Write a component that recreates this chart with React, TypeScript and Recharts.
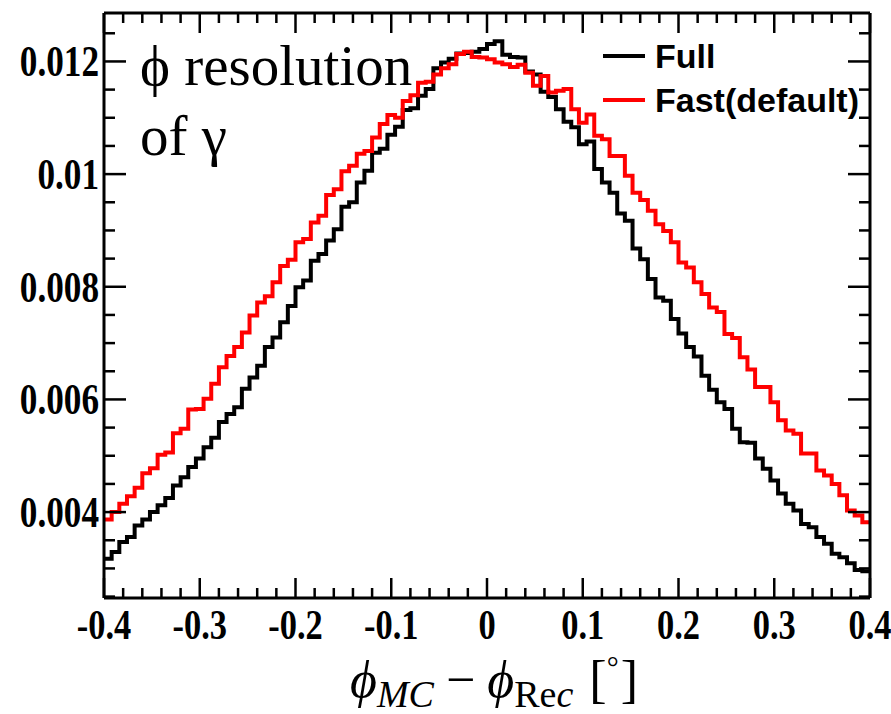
import React from "react";
import { LineChart, Line, XAxis, YAxis, Legend } from "recharts";

// histogram: 100 bins from -0.4 to 0.4
const binLowEdge = -0.4;
const binWidth = 0.008;

const fullValues = [
  0.00317, 0.00329, 0.00347, 0.00356, 0.00376, 0.00387, 0.004, 0.00412, 0.00425, 0.00447,
  0.00462, 0.0048, 0.00495, 0.00515, 0.00532, 0.0056, 0.00574, 0.00586, 0.00619, 0.00639,
  0.0066, 0.00693, 0.0071, 0.00737, 0.00766, 0.00799, 0.00811, 0.00846, 0.00858, 0.00882,
  0.00902, 0.00942, 0.0095, 0.00985, 0.01006, 0.01038, 0.01045, 0.0107, 0.01084, 0.01114,
  0.01117, 0.01139, 0.01151, 0.01188, 0.01198, 0.01205, 0.01214, 0.01215, 0.01217, 0.01222,
  0.01231, 0.01236, 0.01212, 0.01208, 0.01207, 0.01182, 0.01177, 0.01146, 0.01137, 0.01115,
  0.01093, 0.01083, 0.01053, 0.01058, 0.01009, 0.00985, 0.00967, 0.0093, 0.00917, 0.00868,
  0.00849, 0.00814, 0.00781, 0.00775, 0.00743, 0.00717, 0.00693, 0.00676, 0.00642, 0.00617,
  0.00595, 0.00583, 0.00548, 0.00524, 0.00523, 0.00495, 0.00477, 0.00456, 0.00433, 0.00415,
  0.00403, 0.00379, 0.00373, 0.00356, 0.00344, 0.00326, 0.0032, 0.00309, 0.00297, 0.00295,
];

const fastValues = [
  0.00387, 0.004, 0.00415, 0.00428, 0.00443, 0.00469, 0.00478, 0.00502, 0.00506, 0.0054,
  0.00548, 0.00582, 0.00583, 0.00601, 0.00628, 0.00657, 0.00677, 0.00693, 0.00719, 0.00749,
  0.00772, 0.00783, 0.00808, 0.00837, 0.00848, 0.00879, 0.00885, 0.00914, 0.00926, 0.00963,
  0.00973, 0.01005, 0.01015, 0.01036, 0.01041, 0.01065, 0.01089, 0.01105, 0.011, 0.0113,
  0.0114, 0.01162, 0.01164, 0.01177, 0.01188, 0.01195, 0.01213, 0.01217, 0.01208, 0.01207,
  0.01204, 0.01198, 0.01195, 0.0119, 0.01194, 0.0118, 0.01157, 0.01174, 0.01145, 0.01148,
  0.01151, 0.01115, 0.01091, 0.01106, 0.01068, 0.01062, 0.01032, 0.01032, 0.00997, 0.00967,
  0.00954, 0.00935, 0.00911, 0.00899, 0.00879, 0.00843, 0.00834, 0.00808, 0.00787, 0.00763,
  0.00755, 0.00716, 0.00709, 0.00675, 0.00653, 0.00622, 0.00622, 0.00595, 0.00563, 0.00545,
  0.00539, 0.00504, 0.00504, 0.00474, 0.00465, 0.0045, 0.0043, 0.00403, 0.00394, 0.00382,
];

const seriesOrder = ["full", "fast"];

const xMajorTicks = [-0.4, -0.3, -0.2, -0.1, 0, 0.1, 0.2, 0.3, 0.4];
const xTickLabels = ["-0.4", "-0.3", "-0.2", "-0.1", "0", "0.1", "0.2", "0.3", "0.4"];
const yMajorTicks = [0.004, 0.006, 0.008, 0.01, 0.012];
const yTickLabels = ["0.004", "0.006", "0.008", "0.01", "0.012"];

const xDomain = [-0.4, 0.4];
const yDomain = [0.002475, 0.01286];

const round = (v: number) => Math.round(v * 1e6) / 1e6;

const xMinorTicks = Array.from({ length: 41 }, (_, i) => round(-0.4 + i * 0.02));
const yMinorTicks = Array.from({ length: 21 }, (_, i) => round(0.0025 + i * 0.0005));

const data = fullValues.map((v, i) => ({
  x: round(binLowEdge + i * binWidth),
  full: v,
  fast: fastValues[i],
}));
data.push({
  x: round(binLowEdge + fullValues.length * binWidth),
  full: fullValues[fullValues.length - 1],
  fast: fastValues[fastValues.length - 1],
});

const majorIndex = (list: number[], v: number) =>
  list.findIndex((t) => Math.abs(t - v) < 1e-7);

const labelFont = "'Liberation Serif', 'Times New Roman', serif";

function BottomTick(props: any) {
  const { x, y, payload } = props;
  const idx = majorIndex(xMajorTicks, payload.value);
  const major = idx >= 0;
  return (
    <g>
      <line x1={x} x2={x} y1={y} y2={y - (major ? 20 : 10)} stroke="#000" strokeWidth={2.5} />
      {major && (
        <text
          transform={`translate(${x},${y + 41}) scale(0.82,1)`}
          textAnchor="middle"
          fontFamily={labelFont}
          fontWeight="bold"
          fontSize={42}
          fill="#000"
        >
          {xTickLabels[idx]}
        </text>
      )}
    </g>
  );
}

function TopTick(props: any) {
  const { x, y, payload } = props;
  const major = majorIndex(xMajorTicks, payload.value) >= 0;
  return <line x1={x} x2={x} y1={y} y2={y + (major ? 20 : 10)} stroke="#000" strokeWidth={2.5} />;
}

function LeftTick(props: any) {
  const { x, y, payload } = props;
  const idx = majorIndex(yMajorTicks, payload.value);
  const major = idx >= 0;
  return (
    <g>
      <line x1={x} x2={x + (major ? 22 : 11)} y1={y} y2={y} stroke="#000" strokeWidth={2.5} />
      {major && (
        <text
          transform={`translate(${x - 5},${y + 15}) scale(0.8,1)`}
          textAnchor="end"
          fontFamily={labelFont}
          fontWeight="bold"
          fontSize={44}
          fill="#000"
        >
          {yTickLabels[idx]}
        </text>
      )}
    </g>
  );
}

function RightTick(props: any) {
  const { x, y, payload } = props;
  const major = majorIndex(yMajorTicks, payload.value) >= 0;
  return <line x1={x} x2={x - (major ? 22 : 11)} y1={y} y2={y} stroke="#000" strokeWidth={2.5} />;
}

function LegendBox(props: any) {
  const items = [...(props.payload || [])].sort(
    (a: any, b: any) => seriesOrder.indexOf(a.dataKey) - seriesOrder.indexOf(b.dataKey)
  );
  return (
    <div>
      {items.map((e: any) => (
        <div key={e.value} style={{ display: "flex", alignItems: "center", height: 44 }}>
          <div style={{ width: 42, height: 4, background: e.color, marginRight: 10 }} />
          <span
            style={{
              font: "bold 34px 'Liberation Sans', Arial, sans-serif",
              color: "#000",
              whiteSpace: "nowrap",
            }}
          >
            {e.value}
          </span>
        </div>
      ))}
    </div>
  );
}

const axisLine = { stroke: "#000", strokeWidth: 3 };

export default function App() {
  return (
    <div style={{ position: "absolute", left: 0, top: 0, width: 891, height: 714, background: "#fff" }}>
      <LineChart width={891} height={714} data={data} margin={{ top: 0, right: 0, bottom: 56, left: 0 }}>
        <XAxis
          xAxisId="b"
          dataKey="x"
          type="number"
          domain={xDomain}
          allowDataOverflow
          ticks={xMinorTicks}
          interval={0}
          tickSize={0}
          tickMargin={0}
          tickLine={false}
          axisLine={axisLine}
          tick={BottomTick}
          height={60}
        />
        <XAxis
          xAxisId="t"
          orientation="top"
          dataKey="x"
          type="number"
          domain={xDomain}
          allowDataOverflow
          ticks={xMinorTicks}
          interval={0}
          tickSize={0}
          tickMargin={0}
          tickLine={false}
          axisLine={axisLine}
          tick={TopTick}
          height={13}
        />
        <YAxis
          yAxisId="l"
          type="number"
          domain={yDomain}
          allowDataOverflow
          ticks={yMinorTicks}
          interval={0}
          tickSize={0}
          tickMargin={0}
          tickLine={false}
          axisLine={axisLine}
          tick={LeftTick}
          width={104}
        />
        <YAxis
          yAxisId="r"
          orientation="right"
          type="number"
          domain={yDomain}
          allowDataOverflow
          ticks={yMinorTicks}
          interval={0}
          tickSize={0}
          tickMargin={0}
          tickLine={false}
          axisLine={axisLine}
          tick={RightTick}
          width={21}
        />
        <Legend
          layout="vertical"
          align="center"
          verticalAlign="middle"
          content={LegendBox}
          wrapperStyle={{ top: 34, left: 603, width: "auto", height: "auto" }}
        />
        <Line
          xAxisId="b"
          yAxisId="l"
          type="stepAfter"
          dataKey="full"
          name="Full"
          stroke="#000000"
          strokeWidth={4}
          dot={false}
          activeDot={false}
          isAnimationActive={false}
        />
        <Line
          xAxisId="b"
          yAxisId="l"
          type="stepAfter"
          dataKey="fast"
          name="Fast(default)"
          stroke="#ff0000"
          strokeWidth={4}
          dot={false}
          activeDot={false}
          isAnimationActive={false}
        />
      </LineChart>
      <svg
        width={891}
        height={714}
        style={{ position: "absolute", left: 0, top: 0, pointerEvents: "none" }}
      >
        <text x={140} y={85} fontFamily={labelFont} fontSize={57} fill="#000">
          ϕ resolution
        </text>
        <text x={140} y={155} fontFamily={labelFont} fontSize={57} fill="#000">
          of γ
        </text>
        <text x={494} y={697} textAnchor="middle" fontFamily={labelFont} fontSize={52} fill="#000">
          <tspan fontStyle="italic">ϕ</tspan>
          <tspan fontStyle="italic" fontSize={38} dy={10}>MC</tspan>
          <tspan dy={-10} dx={12}>−</tspan>
          <tspan fontStyle="italic" dx={12}>ϕ</tspan>
          <tspan fontSize={38} dy={10}>Re</tspan>
          <tspan fontSize={38} fontStyle="italic">c</tspan>
          <tspan dy={-10} dx={16}>[</tspan>
          <tspan fontSize={30} dy={-20}>°</tspan>
          <tspan dy={20} dx={2}>]</tspan>
        </text>
      </svg>
    </div>
  );
}
